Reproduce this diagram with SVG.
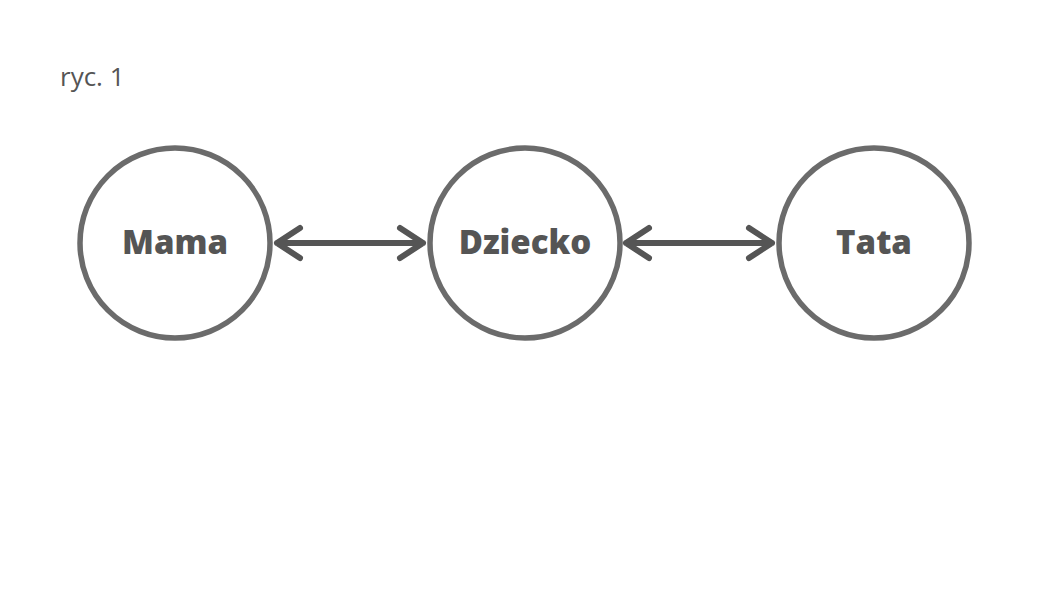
<svg xmlns="http://www.w3.org/2000/svg" width="1050" height="600" viewBox="0 0 1050 600">
<style>
.node circle{fill:#fff;stroke:#6b6b6b;stroke-width:5.5}
.node text{font-family:"Open Sans","DejaVu Sans",sans-serif;font-weight:800;font-size:33px;fill:#555;text-anchor:middle}
.edge{stroke:#555;stroke-width:6;stroke-linecap:round;stroke-linejoin:round;fill:none}
.cap{font-family:"Open Sans","DejaVu Sans",sans-serif;font-size:26px;fill:#555}
</style>
<rect width="1050" height="600" fill="#fff"/>
<text class="cap" x="60" y="86">ryc. 1</text>
<g id="node-mama" class="node"><circle cx="175" cy="243" r="95"/><text x="175" y="254">Mama</text></g>
<g id="node-dziecko" class="node"><circle cx="525" cy="243" r="95"/><text x="525" y="254">Dziecko</text></g>
<g id="node-tata" class="node"><circle cx="874" cy="243" r="95"/><text x="874" y="254">Tata</text></g>
<g id="connectors">
<path class="edge" d="M277 243H423M300 228L277 243L300 258M400 228L423 243L400 258"/>
<path class="edge" d="M626 243H772M649 228L626 243L649 258M749 228L772 243L749 258"/>
</g>
</svg>
